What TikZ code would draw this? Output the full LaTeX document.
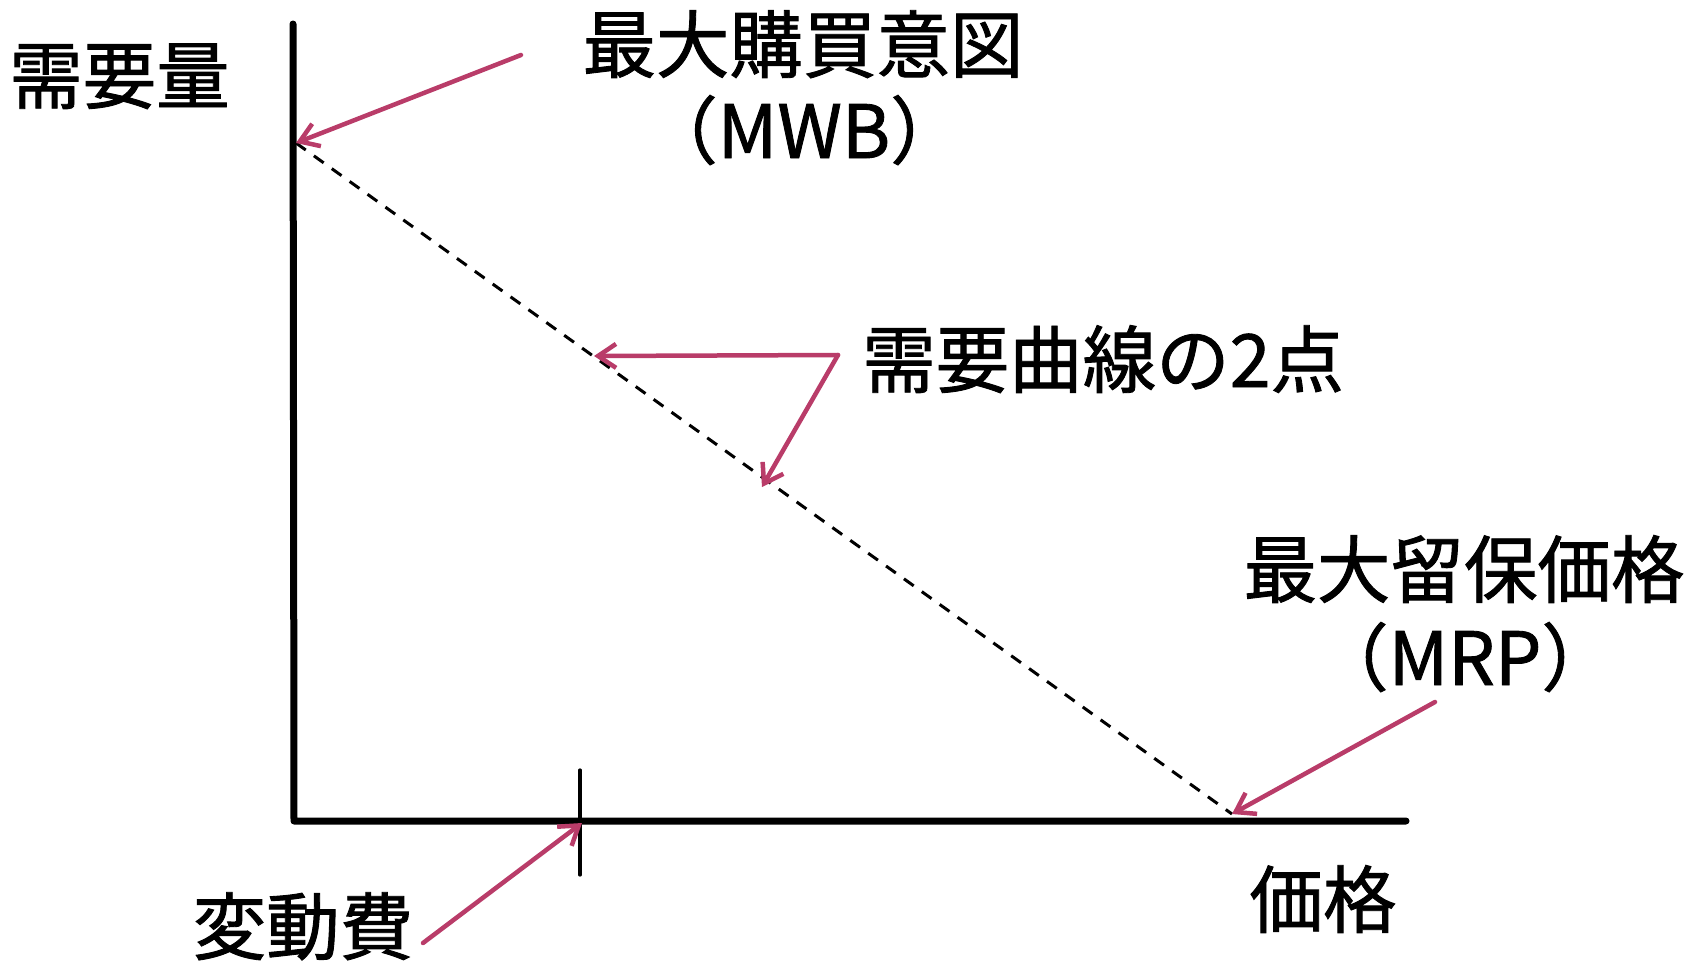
\documentclass[tikz,border=0pt]{standalone}
\usepackage{fontspec}
\setmainfont{Noto Sans CJK JP}[FakeBold=1.2]
\usetikzlibrary{arrows.meta}
\definecolor{pointer}{RGB}{185,60,105}
\tikzset{
  axisline/.style={line width=7pt, line cap=round, line join=round},
  tickline/.style={line width=3.2pt, line cap=round},
  curveline/.style={line width=3pt, dash pattern=on 12pt off 10pt},
  pointerarrow/.style={pointer, line width=4.5pt, line cap=round, line join=round,
    -{Straight Barb[length=18pt, width=24pt, line width=4.5pt]}},
  lbl/.style={inner sep=0pt, font=\fontsize{73.5}{86}\selectfont},
}
\begin{document}
\begin{tikzpicture}[x=1pt, y=-1pt]
\useasboundingbox (0,0) rectangle (1690,964);
% axes
\coordinate (ytop) at (293,24);
\coordinate (origin) at (294,821);
\coordinate (xend) at (1406,821);
\draw[axisline] (ytop) -- (origin) -- (xend);
% tick for variable cost
\coordinate (ticktop) at (580,770);
\coordinate (tickbot) at (580,875);
\coordinate (vc) at (582,823);
\draw[tickline] (ticktop) -- (tickbot);
% demand line
\coordinate (mwbpt) at (296,143);
\coordinate (mrppt) at (1232,814);
\draw[curveline] (mwbpt) -- (mrppt);
\coordinate (dp1) at (594,356);
\coordinate (dp2) at (762,487);
% labels
\node[lbl, anchor=base west] (qty) at (9,103) {需要量};
\node[lbl, anchor=base] (mwb) at (803,72) {最大購買意図};
\node[lbl, anchor=base] (mwbabbr) at (804,158) {（MWB）};
\node[lbl, anchor=base west] (two) at (862,387) {需要曲線の2点};
\node[lbl, anchor=base] (mrp) at (1464,597) {最大留保価格};
\node[lbl, anchor=base] (mrpabbr) at (1465,685) {（MRP）};
\node[lbl, anchor=base] (price) at (1323,927) {価格};
\node[lbl, anchor=base] (varcost) at (303,954) {変動費};
% pointer arrows
\coordinate (mwbstart) at (521,55);
\coordinate (twostart) at (838,355);
\coordinate (mrpstart) at (1435,702);
\coordinate (vcstart) at (423,943);
\draw[pointerarrow] (mwbstart) -- (mwbpt);
\draw[pointerarrow] (twostart) -- (dp1);
\draw[pointerarrow] (twostart) -- (dp2);
\draw[pointerarrow] (mrpstart) -- (mrppt);
\draw[pointerarrow] (vcstart) -- (vc);
\end{tikzpicture}
\end{document}
